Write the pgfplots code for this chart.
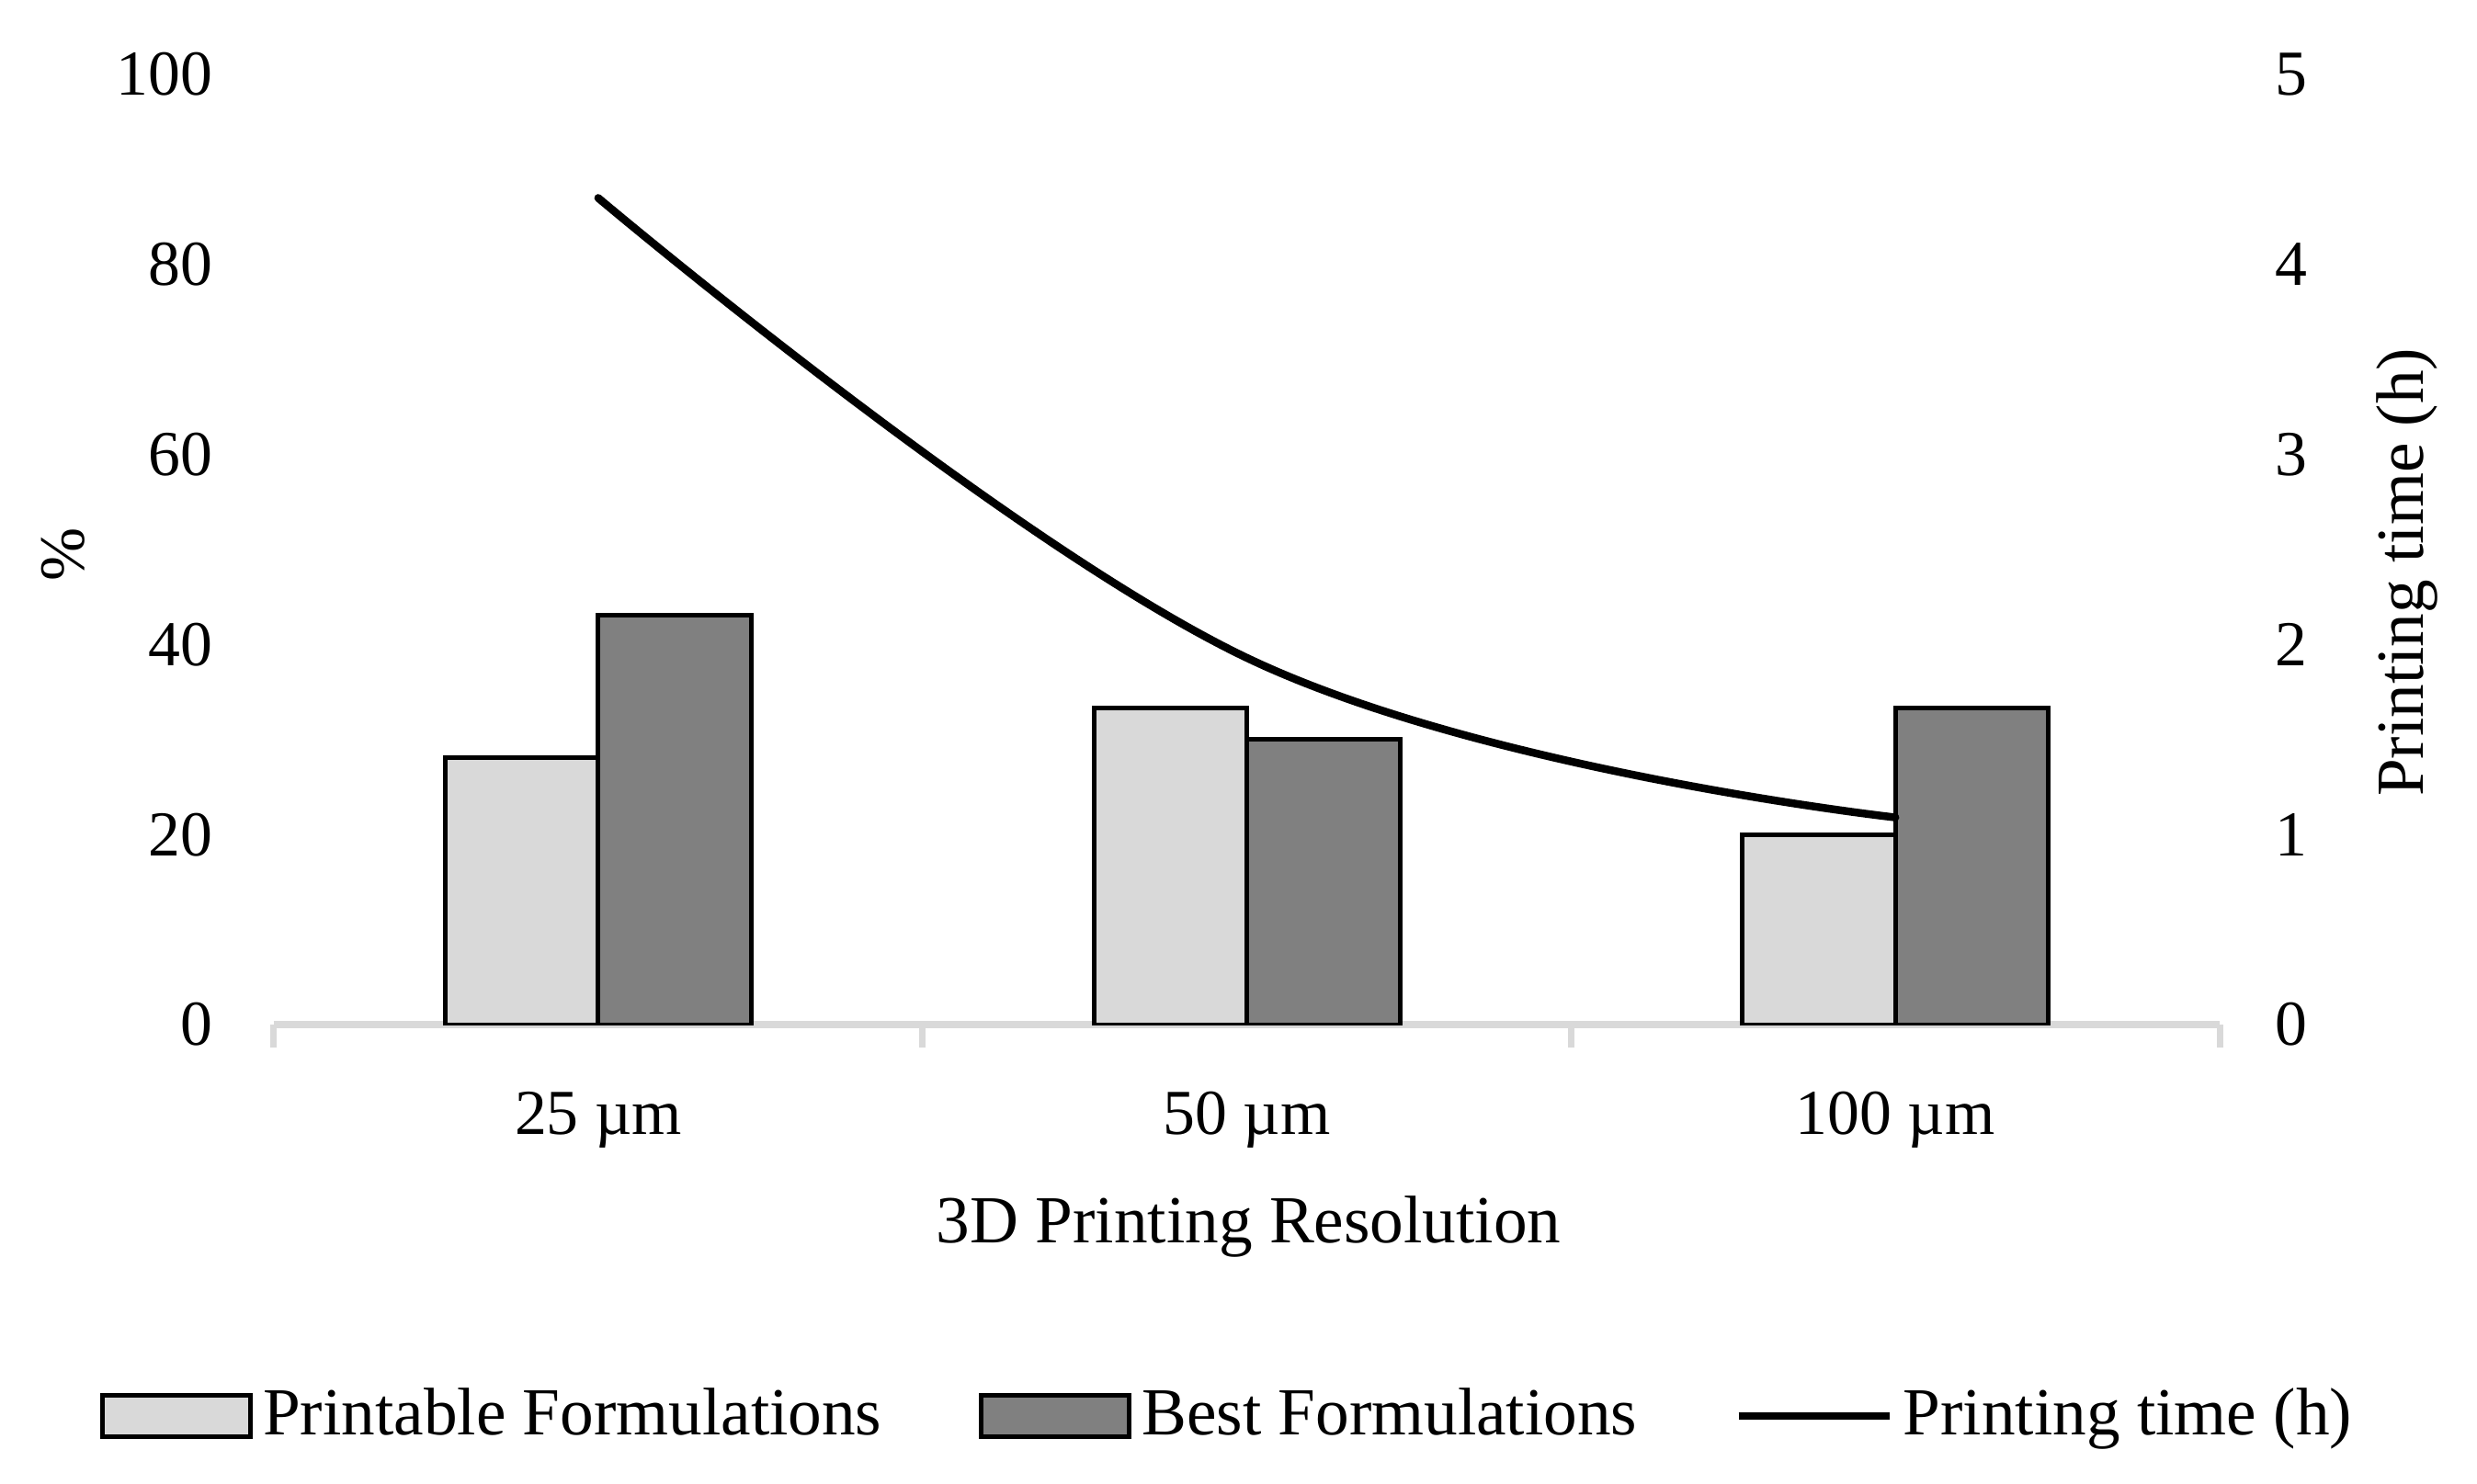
\documentclass[border=0pt]{standalone}
\usepackage{fontspec}
\setmainfont{Liberation Serif}
\usepackage{pgfplots}
\usepackage{pgfplotstable}
\pgfplotsset{compat=1.18}

\definecolor{lightbar}{HTML}{D9D9D9}
\definecolor{darkbar}{HTML}{808080}
\definecolor{axisgray}{HTML}{D9D9D9}

\pgfplotsset{
  barlegend/.style={legend image code/.code={\draw[##1] (0bp,-4.5bp) rectangle (32.2bp,4.5bp);}},
  linelegend/.style={legend image code/.code={\draw[##1] (0bp,0bp) -- (32.8bp,0bp);}},
}

\pgfplotstableread{
x printable best
0 28.1 43.1
1 33.3 30.0
2 20.0 33.3
}\bardata

\pgfplotstableread{
x time
0 4.35
1 1.93
2 1.09
}\timedata

\newcommand{\titlefont}{\fontsize{14.7}{17.6}\selectfont}

\begin{document}
\fontsize{14}{16.8}\selectfont
\begin{tikzpicture}
\begin{axis}[
  at={(0,0)}, anchor=south west,
  scale only axis, width=423.4bp, height=206.8bp,
  xmin=-0.5, xmax=2.5, ymin=0, ymax=100,
  axis x line*=bottom, axis y line*=left,
  separate axis lines,
  x axis line style={-, draw=axisgray, line width=1.6bp},
  y axis line style={draw=none},
  xtick={-0.5,0.5,1.5,2.5},
  x tick label as interval,
  xticklabels={25 µm, 50 µm, 100 µm},
  tick align=outside,
  major tick length=5bp,
  xtick style={draw=axisgray, line width=1.4bp},
  ytick={0,20,40,60,80,100},
  ytick style={draw=none},
  /pgf/number format/assume math mode=true,
  yticklabel style={anchor=east, inner sep=0pt, xshift=-8.2bp},
  xticklabel style={anchor=north, inner sep=0pt, yshift=-9.4bp},
  xlabel={\titlefont 3D Printing Resolution},
  xlabel style={at={(axis description cs:0.501,-0.2128)}, anchor=center},
  ylabel={\%},
  ylabel style={at={(axis description cs:-0.1082,0.495)}, anchor=center},
  legend columns=3,
  legend style={at={(axis description cs:0.492,-0.412)}, anchor=center,
     draw=none, fill=none, font=\titlefont,
     nodes={inner sep=2.2bp},
     /tikz/every even column/.append style={column sep=19bp}},
  legend cell align=left,
]
\addplot[ybar, bar width=33.3bp, bar shift=-16.65bp, draw=black, line width=1bp, fill=lightbar, barlegend]
  table[x=x, y=printable]{\bardata};
\addlegendentry{Printable Formulations}
\addplot[ybar, bar width=33.3bp, bar shift=16.65bp, draw=black, line width=1bp, fill=darkbar, barlegend]
  table[x=x, y=best]{\bardata};
\addlegendentry{Best Formulations}
\addlegendimage{black, line width=1.7bp, linelegend}
\addlegendentry{Printing time (h)}
\end{axis}

\begin{axis}[
  at={(0,0)}, anchor=south west,
  scale only axis, width=423.4bp, height=206.8bp,
  xmin=-0.5, xmax=2.5, ymin=0, ymax=5,
  axis x line=none, axis y line*=right,
  y axis line style={draw=none},
  ytick={0,1,2,3,4,5},
  ytick style={draw=none},
  /pgf/number format/assume math mode=true,
  yticklabel style={anchor=west, inner sep=0pt, xshift=11.8bp},
  ylabel={\titlefont Printing time (h)},
  ylabel style={at={(axis description cs:1.0964,0.476)}, anchor=center},
]
\addplot[black, line width=1.7bp, smooth, tension=0.66, line cap=round] table[x=x, y=time]{\timedata};
\end{axis}
\pgfresetboundingbox
\path[use as bounding box] (-59.6bp,-100bp) rectangle (479.4bp,223bp);
\end{tikzpicture}
\end{document}
